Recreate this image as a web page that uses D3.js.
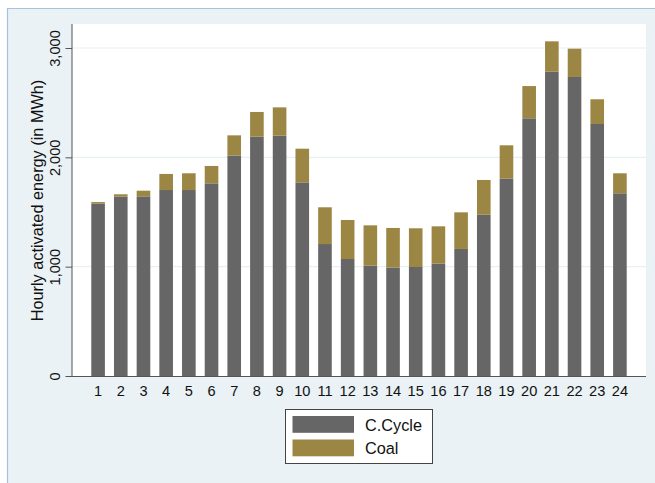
<!DOCTYPE html>
<html><head><meta charset="utf-8">
<script src="https://cdn.jsdelivr.net/npm/d3@7"></script>
<style>body{margin:0;background:#fff;} svg{display:block;font-family:"Liberation Sans",Arial,Helvetica,sans-serif;}</style>
</head><body>
<script>
const hours = ["1","2","3","4","5","6","7","8","9","10","11","12","13","14","15","16","17","18","19","20","21","22","23","24"];
const cCycle = [1576,1640,1643,1701,1701,1762,2015,2189,2198,1771,1207,1070,1009,991,997,1027,1162,1475,1805,2357,2783,2735,2305,1671];
const coal = [15,22,52,147,153,159,186,226,259,308,336,357,369,363,354,342,335,318,305,295,278,259,226,183];
const yTicks = [0,1000,2000,3000];
const seriesNames = ["C.Cycle","Coal"];
const seriesColors = ["#666666","#9b8644"];

const W=655,H=483;
const svg=d3.select("body").append("svg").attr("width",W).attr("height",H);
// graph region
svg.append("rect").attr("x",7).attr("y",8).attr("width",W-7).attr("height",H-8).attr("fill","#eaf2f5");
svg.append("line").attr("x1",7).attr("x2",W).attr("y1",8.5).attr("y2",8.5).attr("stroke","#a6c2e0").attr("stroke-width",1.2);
svg.append("line").attr("x1",7.5).attr("x2",7.5).attr("y1",8).attr("y2",H).attr("stroke","#a6c2e0").attr("stroke-width",1.2);

const L=72,R=646,T=24,B=376;
svg.append("rect").attr("x",L).attr("y",T).attr("width",R-L).attr("height",B-T).attr("fill","#fff");

const x=d3.scaleBand().domain(hours).range([L,R]).paddingInner(0.4).paddingOuter(0.85);
const y=d3.scaleLinear().domain([0,3000]).range([B,48]);

// gridlines
svg.append("g").selectAll("line").data(yTicks.filter(d=>d>0)).join("line")
  .attr("x1",L).attr("x2",R).attr("y1",d=>y(d)).attr("y2",d=>y(d))
  .attr("stroke","#e7f0f3").attr("stroke-width",1.2);

const rows=hours.map((h,i)=>({h,"C.Cycle":cCycle[i],"Coal":coal[i]}));
const stacked=d3.stack().keys(seriesNames)(rows);
svg.append("g").selectAll("g").data(stacked).join("g").attr("fill",(d,i)=>seriesColors[i])
  .selectAll("rect").data(d=>d).join("rect")
  .attr("x",d=>x(d.data.h)).attr("width",x.bandwidth())
  .attr("y",d=>y(d[1])).attr("height",d=>y(d[0])-y(d[1]));

// y axis
const ya=svg.append("g").attr("transform",`translate(${L},0)`)
  .call(d3.axisLeft(y).tickValues(yTicks).tickSize(6.5).tickFormat(d3.format(",")).tickPadding(6));
ya.select(".domain").attr("stroke","#555").attr("d",`M-0.0,${T}V${B}`);
ya.selectAll(".tick line").attr("stroke","#555");
ya.selectAll(".tick text").attr("transform","rotate(-90)").attr("text-anchor","middle")
  .attr("x",0).attr("y",-12.5).attr("dy",0).attr("fill","#111").style("font-size","14.6px")
  .attr("font-family","Liberation Sans, Arial, sans-serif");

// x axis
const xa=svg.append("g").attr("transform",`translate(0,${B})`).call(d3.axisBottom(x).tickSize(0).tickPadding(0));
xa.select(".domain").attr("stroke","#555").attr("d",`M${L},0.5H${R}`);
xa.selectAll(".tick text").attr("y",20).attr("dy",0).attr("fill","#111").style("font-size","14.6px")
  .attr("font-family","Liberation Sans, Arial, sans-serif");

// y title
svg.append("text").attr("transform",`translate(42.5,${(79+322)/2}) rotate(-90)`).attr("text-anchor","middle")
  .style("font-size","16.3px").attr("fill","#111").text("Hourly activated energy (in MWh)");

// legend
const lg=svg.append("g");
lg.append("rect").attr("x",285.5).attr("y",409.5).attr("width",147).attr("height",54).attr("fill","#fff").attr("stroke","#444").attr("stroke-width",1);
seriesNames.forEach((n,i)=>{
  lg.append("rect").attr("x",292.5).attr("y",416+i*23.5).attr("width",61.5).attr("height",16.8).attr("fill",seriesColors[i]);
  lg.append("text").attr("x",365).attr("y",430.5+i*23.5).style("font-size","16.3px").attr("fill","#111").text(n);
});
</script>
</body></html>
